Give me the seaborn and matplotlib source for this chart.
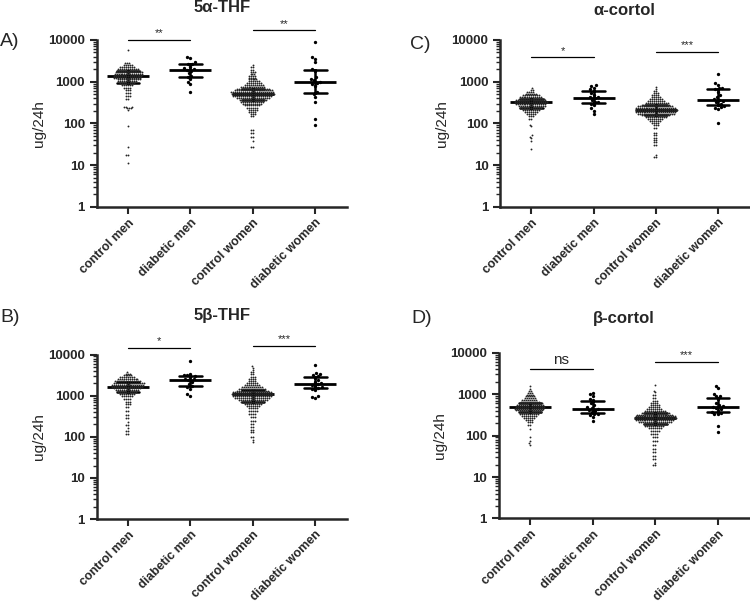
import numpy as np
import pandas as pd
import seaborn as sns
import matplotlib.pyplot as plt
from matplotlib import ticker

GROUPS = ["control men", "diabetic men", "control women", "diabetic women"]
Y_TICKS = [1, 10, 100, 1000, 10000]
Y_TICK_LABELS = ["1", "10", "100", "1000", "10000"]

# A) 5a-THF
A_CM_LEVELS = [11.5, 18, 27, 85, 210, 230, 250, 380, 450, 530, 620, 720, 820, 920, 1020,
               1130, 1250, 1380, 1520, 1680, 1850, 2050, 2300, 2550, 2800, 5800]
A_CM_COUNTS = [1, 2, 1, 1, 1, 3, 3, 2, 3, 3, 3, 4, 6, 8, 10, 12, 14, 15, 15, 14, 13, 11, 8, 5, 3, 1]
A_DM = [4000, 3700, 3000, 2700, 2600, 2300, 2100, 2000, 1900, 1800, 1600, 1400, 1300, 1150, 1000, 880, 570]
A_CW_LEVELS = [27, 37, 48, 60, 70, 150, 170, 190, 215, 240, 270, 300, 335, 370, 410, 455, 500, 555,
               615, 680, 750, 830, 920, 1020, 1130, 1250, 1400, 1550, 1750, 1950, 2200, 2500]
A_CW_COUNTS = [2, 1, 2, 2, 2, 2, 3, 4, 5, 6, 8, 10, 12, 14, 17, 20, 22, 22, 20, 17, 13, 10, 8, 6,
               5, 4, 4, 3, 3, 2, 2, 1]
A_DW = [8800, 3800, 3500, 2900, 2000, 1800, 1300, 1150, 1100, 1000, 950, 880, 800, 580, 520, 440, 330, 125, 92]
A_SIG = ["**", "**"]
A_SIG_Y = [10000, 17000]

# B) 5b-THF
B_CM_LEVELS = [120, 135, 160, 190, 230, 280, 340, 420, 520, 620, 720, 850, 960, 1080, 1200, 1340,
               1500, 1670, 1850, 2050, 2270, 2500, 2800, 3100, 3450, 3800]
B_CM_COUNTS = [2, 2, 1, 2, 1, 2, 2, 2, 2, 3, 3, 4, 6, 8, 10, 12, 14, 16, 17, 16, 14, 11, 8, 5, 3, 1]
B_DM = [6900, 3400, 3200, 3100, 3000, 2800, 2600, 2500, 2400, 2200, 1900, 1700, 1600, 1450, 1100, 1000]
B_CW_LEVELS = [75, 85, 100, 130, 150, 170, 200, 240, 300, 360, 430, 500, 570, 640, 720, 800, 890,
               990, 1090, 1200, 1330, 1470, 1620, 1800, 2000, 2250, 2550, 2900, 3300, 3800, 4300, 4800, 5200]
B_CW_COUNTS = [1, 1, 2, 2, 2, 2, 2, 3, 3, 4, 5, 5, 7, 9, 12, 15, 18, 20, 21, 20, 17, 14, 11, 8, 6,
               4, 4, 3, 2, 2, 1, 1, 1]
B_DW = [5600, 3600, 3400, 3200, 3000, 2700, 2400, 2100, 2000, 1900, 1800, 1700, 1600, 1550, 1450, 1400, 1000, 950, 900]
B_SIG = ["*", "***"]
B_SIG_Y = [14700, 16500]

# C) a-cortol
C_CM_LEVELS = [25, 38, 44, 48, 52, 85, 90, 130, 150, 170, 190, 210, 235, 260, 290, 320, 355, 390,
               430, 475, 520, 580, 640, 700]
C_CM_COUNTS = [1, 1, 1, 1, 1, 1, 1, 2, 3, 5, 7, 9, 12, 14, 16, 17, 16, 14, 12, 9, 6, 4, 2, 1]
C_DM = [830, 780, 720, 650, 600, 530, 480, 440, 420, 400, 360, 330, 320, 300, 270, 230, 200, 165]
C_CW_LEVELS = [16, 18, 30, 35, 40, 45, 52, 58, 78, 90, 100, 112, 125, 140, 155, 172, 190, 210, 232,
               255, 280, 310, 345, 385, 430, 480, 540, 600, 680, 760]
C_CW_COUNTS = [2, 1, 2, 2, 2, 2, 2, 2, 2, 3, 4, 6, 8, 11, 15, 19, 21, 22, 21, 18, 15, 12, 9, 7, 5,
               4, 3, 2, 1, 1]
C_DW = [1500, 920, 840, 720, 700, 650, 580, 480, 420, 380, 360, 350, 330, 300, 280, 260, 250, 235, 220, 100]
C_SIG = ["*", "***"]
C_SIG_Y = [3900, 5200]

# D) b-cortol
D_CM_LEVELS = [60, 65, 75, 90, 145, 180, 210, 240, 270, 300, 335, 370, 410, 450, 495, 545, 600, 660,
               730, 800, 880, 970, 1070, 1180, 1300, 1550]
D_CM_COUNTS = [1, 1, 1, 1, 1, 2, 3, 4, 6, 8, 10, 12, 14, 15, 15, 14, 12, 10, 8, 6, 5, 4, 3, 2, 1, 1]
D_DM = [1080, 990, 900, 780, 720, 600, 540, 490, 460, 440, 420, 400, 370, 340, 330, 310, 280, 220]
D_CW_LEVELS = [19, 22, 27, 33, 40, 48, 60, 75, 90, 110, 130, 150, 170, 190, 210, 235, 260, 290, 320,
               355, 395, 440, 490, 550, 620, 700, 800, 950, 1100, 1200, 1700]
D_CW_COUNTS = [2, 1, 2, 2, 2, 2, 2, 3, 3, 4, 5, 7, 10, 13, 17, 20, 22, 21, 19, 15, 11, 8, 6, 5, 4,
               3, 2, 2, 1, 1, 1]
D_DW = [1600, 1400, 1000, 920, 880, 750, 620, 540, 510, 490, 470, 440, 400, 380, 360, 340, 330, 170, 125]
D_SIG = ["ns", "***"]
D_SIG_Y = [4100, 6000]


def draw_panel(ax, cm, dm, cw, dw, sig, sig_y):
    df = pd.DataFrame({
        "group": np.repeat(GROUPS, [len(cm), len(dm), len(cw), len(dw)]),
        "value": np.concatenate([cm, dm, cw, dw]),
    })
    ctrl = df[df["group"].str.startswith("control")]
    diab = df[df["group"].str.startswith("diabetic")]

    ax.set_yscale("log")
    ax.set_ylim(1, 10000)
    sns.swarmplot(data=ctrl, x="group", y="value", order=GROUPS, color="#262626",
                  size=1.35, linewidth=0, ax=ax, warn_thresh=1)
    sns.swarmplot(data=diab, x="group", y="value", order=GROUPS, color="black",
                  size=2.4, linewidth=0, ax=ax, warn_thresh=1)
    sns.pointplot(data=df, x="group", y="value", order=GROUPS, estimator="median",
                  errorbar=("pi", 50), color="black", markers="_", markersize=30,
                  markeredgewidth=2, linestyle="none", capsize=0.36,
                  err_kws={"linewidth": 1.8}, ax=ax)

    ax.set_xlim(-0.5, 3.5)
    ax.set_ylim(1, 10000)
    ax.yaxis.set_major_locator(ticker.FixedLocator(Y_TICKS))
    ax.yaxis.set_major_formatter(ticker.FixedFormatter(Y_TICK_LABELS))
    ax.yaxis.set_minor_locator(ticker.LogLocator(base=10, subs=np.arange(2, 10)))
    ax.yaxis.set_minor_formatter(ticker.NullFormatter())

    for i, (label, y) in enumerate(zip(sig, sig_y)):
        x0, x1 = 2 * i, 2 * i + 1
        ax.plot([x0, x1], [y, y], color="black", lw=0.9, clip_on=False)
        if label == "ns":
            ax.annotate(label, xy=(x0 + 0.5, y), xytext=(0, 1), textcoords="offset points",
                        ha="center", va="bottom", fontsize=11, annotation_clip=False)
        else:
            ax.annotate(label, xy=(x0 + 0.5, y), xytext=(0, 1), textcoords="offset points",
                        ha="center", va="bottom", fontsize=8, annotation_clip=False)

    sns.despine(ax=ax)
    for side in ["left", "bottom"]:
        ax.spines[side].set_linewidth(1.8)
    ax.tick_params(axis="both", which="major", width=1.5, length=5)
    ax.tick_params(axis="x", which="major", pad=2)
    ax.tick_params(axis="y", which="minor", width=1.0, length=3)
    ax.set_xlabel("")
    ax.set_ylabel("ug/24h", fontsize=11)
    ax.yaxis.set_label_coords(-0.205, 0.5)
    for lab in ax.get_yticklabels():
        lab.set_fontweight("bold")
        lab.set_fontsize(9.5)
    ax.set_xticks(range(len(GROUPS)))
    ax.set_xticklabels(GROUPS, rotation=45, ha="right", rotation_mode="anchor",
                       fontsize=9, fontweight="bold")


sns.set_style("ticks")
plt.rcParams["font.family"] = ["Liberation Sans", "DejaVu Sans"]

fig = plt.figure(figsize=(7.5, 6.05), dpi=100)

panels = [
    ("A)", "5α-THF", [0.129, 0.658, 0.333, 0.276], (A_CM_LEVELS, A_CM_COUNTS), A_DM,
     (A_CW_LEVELS, A_CW_COUNTS), A_DW, A_SIG, A_SIG_Y, (0.0, 0.931), 0.988),
    ("C)", "α-cortol", [0.667, 0.658, 0.332, 0.276], (C_CM_LEVELS, C_CM_COUNTS), C_DM,
     (C_CW_LEVELS, C_CW_COUNTS), C_DW, C_SIG, C_SIG_Y, (0.547, 0.926), 0.983),
    ("B)", "5β-THF", [0.129, 0.142, 0.333, 0.272], (B_CM_LEVELS, B_CM_COUNTS), B_DM,
     (B_CW_LEVELS, B_CW_COUNTS), B_DW, B_SIG, B_SIG_Y, (0.0, 0.476), 0.479),
    ("D)", "β-cortol", [0.665, 0.143, 0.334, 0.274], (D_CM_LEVELS, D_CM_COUNTS), D_DM,
     (D_CW_LEVELS, D_CW_COUNTS), D_DW, D_SIG, D_SIG_Y, (0.548, 0.473), 0.474),
]

for tag, title, rect, cm, dm, cw, dw, sig, sig_y, tag_pos, title_y in panels:
    ax = fig.add_axes(rect)
    draw_panel(ax, np.repeat(*cm), dm, np.repeat(*cw), dw, sig, sig_y)
    fig.text(rect[0] + rect[2] / 2, title_y, title, ha="center", va="center",
             fontsize=12, fontweight="bold")
    fig.text(tag_pos[0], tag_pos[1], tag, ha="left", va="center", fontsize=14)

fig.savefig("out.png", dpi=100)
